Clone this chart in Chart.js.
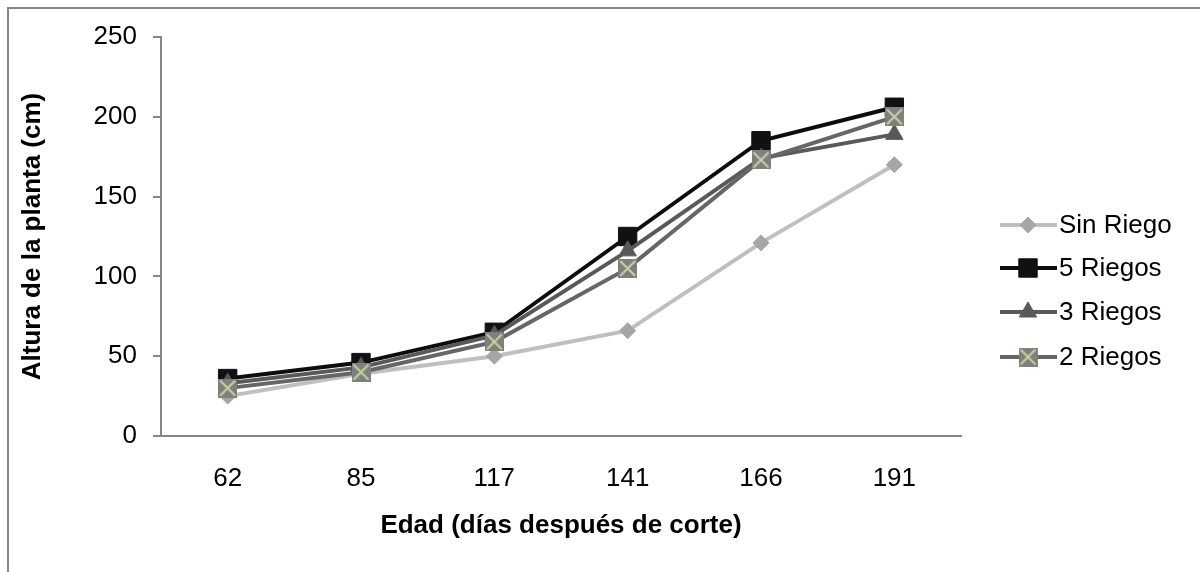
<!DOCTYPE html>
<html>
<head>
<meta charset="utf-8">
<script src="https://cdn.jsdelivr.net/npm/chart.js@4.4.1/dist/chart.umd.min.js"></script>
<style>
	html, body { margin: 0; padding: 0; background: #fff; }
	#wrap { position: relative; width: 1200px; height: 572px; }
</style>
</head>
<body>
<div id="wrap"><canvas id="mycanvas" width="1200" height="572"></canvas></div>
<script>
var edad = ["62", "85", "117", "141", "166", "191"];

var sinRiego = [25, 39, 50, 66, 121, 170];
var cincoRiegos = [36, 46, 65, 125, 185, 206];
var tresRiegos = [33, 43, 63, 116, 174, 189];
var dosRiegos = [30, 40, 59, 105, 173, 200];

var yTicks = [0, 50, 100, 150, 200, 250];

// gray square with a pale green cross, used as the "2 Riegos" marker
function crossSquare(size) {
	var c = document.createElement("canvas");
	c.width = size;
	c.height = size;
	var g = c.getContext("2d");
	g.fillStyle = "#7f7f7f";
	g.fillRect(0, 0, size, size);
	g.strokeStyle = "#c3d69b";
	g.lineWidth = 2;
	g.beginPath();
	g.moveTo(2, 2);
	g.lineTo(size - 2, size - 2);
	g.moveTo(size - 2, 2);
	g.lineTo(2, size - 2);
	g.stroke();
	return c;
}
var xMark = crossSquare(19);

var font = "'Liberation Sans', Arial, sans-serif";

var chartdata = {
	labels: edad,
	datasets: [
		{
			label: "Sin Riego",
			data: sinRiego,
			borderColor: "#bfbfbf",
			backgroundColor: "#a6a6a6",
			pointBorderColor: "#a6a6a6",
			pointStyle: "rectRot",
			pointRadius: 8,
			order: 4
		},
		{
			label: "5 Riegos",
			data: cincoRiegos,
			borderColor: "#0d0d0d",
			backgroundColor: "#111111",
			pointBorderColor: "#111111",
			pointStyle: "rect",
			pointRadius: 13,
			order: 3
		},
		{
			label: "3 Riegos",
			data: tresRiegos,
			borderColor: "#595959",
			backgroundColor: "#595959",
			pointBorderColor: "#595959",
			pointStyle: "triangle",
			pointRadius: 10,
			order: 2
		},
		{
			label: "2 Riegos",
			data: dosRiegos,
			borderColor: "#666666",
			backgroundColor: "#7f7f7f",
			pointBorderColor: "#7f7f7f",
			pointStyle: xMark,
			pointRadius: 10,
			order: 1
		}
	]
};

// legend on the right: line segment with the series marker, then the name
var sideLegend = {
	id: "sideLegend",
	afterDraw: function(chart) {
		var ctx = chart.ctx;
		var rows = [225, 268, 312, 357];
		ctx.save();
		chart.data.datasets.forEach(function(ds, i) {
			var y = rows[i];
			ctx.strokeStyle = ds.borderColor;
			ctx.lineWidth = 4;
			ctx.beginPath();
			ctx.moveTo(1000, y);
			ctx.lineTo(1057, y);
			ctx.stroke();
			ctx.fillStyle = ds.backgroundColor;
			ctx.strokeStyle = ds.pointBorderColor;
			ctx.lineWidth = 1;
			Chart.helpers.drawPoint(ctx, {pointStyle: ds.pointStyle, radius: ds.pointRadius, borderWidth: 1, rotation: 0}, 1028, y);
			ctx.fillStyle = "#000";
			ctx.font = "26px " + font;
			ctx.textBaseline = "middle";
			ctx.textAlign = "left";
			ctx.fillText(ds.label, 1059, y + 1);
		});
		// outer frame, only top and left edges fall inside the canvas
		ctx.strokeStyle = "#868686";
		ctx.lineWidth = 2;
		ctx.beginPath();
		ctx.moveTo(8, 1200);
		ctx.lineTo(8, 8);
		ctx.lineTo(1200, 8);
		ctx.stroke();
		ctx.restore();
	}
};

var ctx = document.getElementById("mycanvas");

var LineGraph = new Chart(ctx, {
	type: "line",
	data: chartdata,
	plugins: [sideLegend],
	options: {
		responsive: false,
		animation: false,
		layout: { padding: { left: 8, right: 239, top: 37, bottom: 0 } },
		elements: {
			line: { borderWidth: 4, tension: 0, fill: false },
			point: { borderWidth: 1, hoverRadius: 9 }
		},
		plugins: {
			legend: { display: false },
			tooltip: { enabled: false }
		},
		scales: {
			x: {
				offset: true,
				grid: { display: false, offset: true },
				border: { display: true, color: "#868686", width: 2 },
				ticks: { color: "#000", padding: 19, font: { family: font, size: 26 } },
				title: {
					display: true,
					text: "Edad (días después de corte)",
					color: "#000",
					font: { family: font, size: 26, weight: "bold" },
					padding: { top: 0, bottom: 31 }
				},
				afterFit: function(scale) { scale.height = 136; }
			},
			y: {
				min: 0,
				max: 250,
				grid: { drawOnChartArea: false, tickLength: 8, color: "#868686", lineWidth: 2 },
				border: { display: true, color: "#868686", width: 2 },
				afterBuildTicks: function(scale) {
					scale.ticks = yTicks.map(function(v) { return { value: v }; });
				},
				ticks: { color: "#000", padding: 16, font: { family: font, size: 26 } },
				title: {
					display: true,
					text: "Altura de la planta (cm)",
					color: "#000",
					font: { family: font, size: 26, weight: "bold" },
					padding: { top: 9, bottom: 0 }
				},
				afterFit: function(scale) { scale.width = 153; }
			}
		}
	}
});
</script>
</body>
</html>
